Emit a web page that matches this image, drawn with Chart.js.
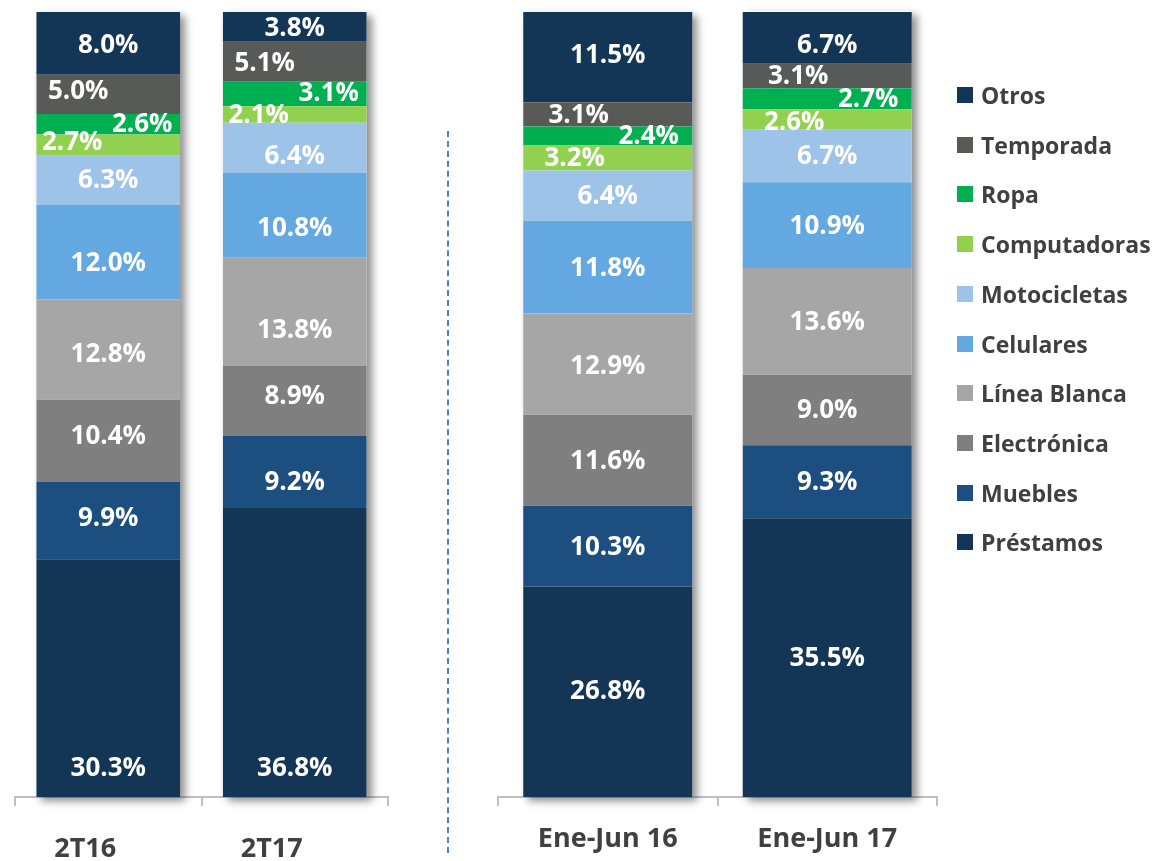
<!DOCTYPE html>
<html>
<head>
<meta charset="utf-8">
<script src="https://cdn.jsdelivr.net/npm/chart.js@4.4.1/dist/chart.umd.min.js"></script>
<style>
  html, body { margin: 0; padding: 0; background: #fff; }
  body { width: 1158px; height: 861px; position: relative; overflow: hidden; font-family: "Open Sans", sans-serif; }
  #wl { position: absolute; left: 0; top: 0; width: 420px; height: 861px; }
  #wr { position: absolute; left: 470px; top: 0; width: 688px; height: 861px; }
  #divider { position: absolute; left: 447px; top: 131px; width: 0; height: 722px; border-left: 2px dashed #4f81bd; }
  #legend { position: absolute; left: 957px; top: 0; }
  .li { position: absolute; left: 0; height: 30px; display: flex; align-items: center; white-space: nowrap;
        font: bold 23px "Open Sans", sans-serif; color: #404040; }
  .li span.box { display: inline-block; width: 16px; height: 16px; margin-right: 8px; }
</style>
</head>
<body>
<div id="wl"><canvas id="cl"></canvas></div>
<div id="divider"></div>
<div id="wr"><canvas id="cr"></canvas></div>
<div id="legend"></div>
<script>
// ---- data ----
const seriesNames = ['Préstamos','Muebles','Electrónica','Línea Blanca','Celulares','Motocicletas','Computadoras','Ropa','Temporada','Otros'];
const categoriesLeft = ['2T16','2T17'];
const categoriesRight = ['Ene-Jun 16','Ene-Jun 17'];
const prestamos    = [30.3, 36.8, 26.8, 35.5];
const muebles      = [9.9, 9.2, 10.3, 9.3];
const electronica  = [10.4, 8.9, 11.6, 9.0];
const lineaBlanca  = [12.8, 13.8, 12.9, 13.6];
const celulares    = [12.0, 10.8, 11.8, 10.9];
const motocicletas = [6.3, 6.4, 6.4, 6.7];
const computadoras = [2.7, 2.1, 3.2, 2.6];
const ropa         = [2.6, 3.1, 2.4, 2.7];
const temporada    = [5.0, 5.1, 3.1, 3.1];
const otros        = [8.0, 3.8, 11.5, 6.7];
const seriesValues = [prestamos, muebles, electronica, lineaBlanca, celulares, motocicletas, computadoras, ropa, temporada, otros];

// ---- styles ----
const seriesColors = ['#133656','#1c4f7f','#7f7f7f','#a6a6a6','#63a8e0','#9dc4e8','#92d050','#00b050','#585a58','#133656'];
const labelShiftLeft  = { 'Temporada': -30, 'Ropa': 34, 'Computadoras': -36 };
const labelShiftRight = { 'Temporada': -29, 'Ropa': 41, 'Computadoras': -33 };
// vertical nudges of value labels (pixels), per series, per bar
const labelNudgeLeft = {
  'Préstamos': [90, 115], 'Muebles': [-3, 10], 'Electrónica': [-5, -5], 'Línea Blanca': [4, 18],
  'Celulares': [10, 12], 'Motocicletas': [-1, 8], 'Computadoras': [-3, 0], 'Ropa': [-1, -1],
  'Temporada': [-4, 1], 'Otros': [1, 1]
};
const labelNudgeRight = {
  'Préstamos': [-1, 0], 'Línea Blanca': [2, 0], 'Computadoras': [0, 2], 'Otros': [-3, 7]
};

function buildDatasets(startIdx) {
  return seriesNames.map((name, i) => ({
    label: name,
    data: seriesValues[i].slice(startIdx, startIdx + 2),
    backgroundColor: seriesColors[i],
    borderWidth: 0,
    barPercentage: 0.77,
    categoryPercentage: 1.0
  }));
}

const shadowPlugin = {
  id: 'barShadow',
  beforeDatasetsDraw(chart) {
    const ctx = chart.ctx;
    const n = chart.data.labels.length;
    const last = chart.getDatasetMeta(chart.data.datasets.length - 1);
    const first = chart.getDatasetMeta(0);
    ctx.save();
    ctx.shadowColor = 'rgba(0,0,0,0.45)';
    ctx.shadowBlur = 8;
    ctx.shadowOffsetX = 5;
    ctx.shadowOffsetY = 4;
    ctx.fillStyle = '#ffffff';
    for (let k = 0; k < n; k++) {
      const top = last.data[k];
      const bot = first.data[k];
      const w = top.width;
      ctx.fillRect(top.x - w / 2, top.y, w, bot.base - top.y);
    }
    ctx.restore();
  }
};

function labelPlugin(shifts, nudges) {
  return {
    id: 'segLabels',
    afterDatasetsDraw(chart) {
      const ctx = chart.ctx;
      ctx.save();
      ctx.fillStyle = '#ffffff';
      ctx.font = 'bold 26px "Open Sans", sans-serif';
      ctx.textAlign = 'center';
      ctx.textBaseline = 'middle';
      chart.data.datasets.forEach((ds, di) => {
        const meta = chart.getDatasetMeta(di);
        const dx = shifts[ds.label] || 0;
        const ny = nudges[ds.label] || [0, 0];
        meta.data.forEach((el, k) => {
          const v = ds.data[k];
          const cy = (el.y + el.base) / 2;
          ctx.fillText(v.toFixed(1) + '%', el.x + dx, cy + 1 + (ny[k] || 0));
        });
      });
      ctx.restore();
    }
  };
}

function makeChart(canvasId, labels, startIdx, pad, labelOffset, tickPad, shifts, nudges) {
  return new Chart(document.getElementById(canvasId), {
    type: 'bar',
    data: { labels: labels, datasets: buildDatasets(startIdx) },
    options: {
      responsive: true,
      maintainAspectRatio: false,
      animation: false,
      layout: { padding: pad },
      plugins: { legend: { display: false }, tooltip: { enabled: false } },
      scales: {
        x: {
          stacked: true,
          afterFit(s) { s.height = 64; },
          grid: { offset: true, drawOnChartArea: false, drawTicks: true, tickLength: 9, color: '#bfbfbf', lineWidth: 2 },
          border: { display: true, color: '#bfbfbf', width: 2 },
          ticks: { color: '#404040', font: { family: '"Open Sans", sans-serif', size: 27, weight: 'bold' },
                   padding: tickPad, labelOffset: labelOffset, maxRotation: 0, autoSkip: false }
        },
        y: {
          stacked: true, display: false, min: 0, max: 100
        }
      }
    },
    plugins: [shadowPlugin, labelPlugin(shifts, nudges)]
  });
}

makeChart('cl', categoriesLeft, 0, { left: 15, right: 32, top: 12, bottom: 0 }, -23, 27, labelShiftLeft, labelNudgeLeft);
makeChart('cr', categoriesRight, 2, { left: 28, right: 221, top: 12, bottom: 0 }, 0, 17, labelShiftRight, labelNudgeRight);

// ---- legend (top = last series) ----
const legend = document.getElementById('legend');
for (let i = seriesNames.length - 1, row = 0; i >= 0; i--, row++) {
  const d = document.createElement('div');
  d.className = 'li';
  d.style.top = (95 - 15 + row * 49.7) + 'px';
  d.innerHTML = '<span class="box" style="background:' + seriesColors[i] + '"></span>' + seriesNames[i];
  legend.appendChild(d);
}
</script>
</body>
</html>
